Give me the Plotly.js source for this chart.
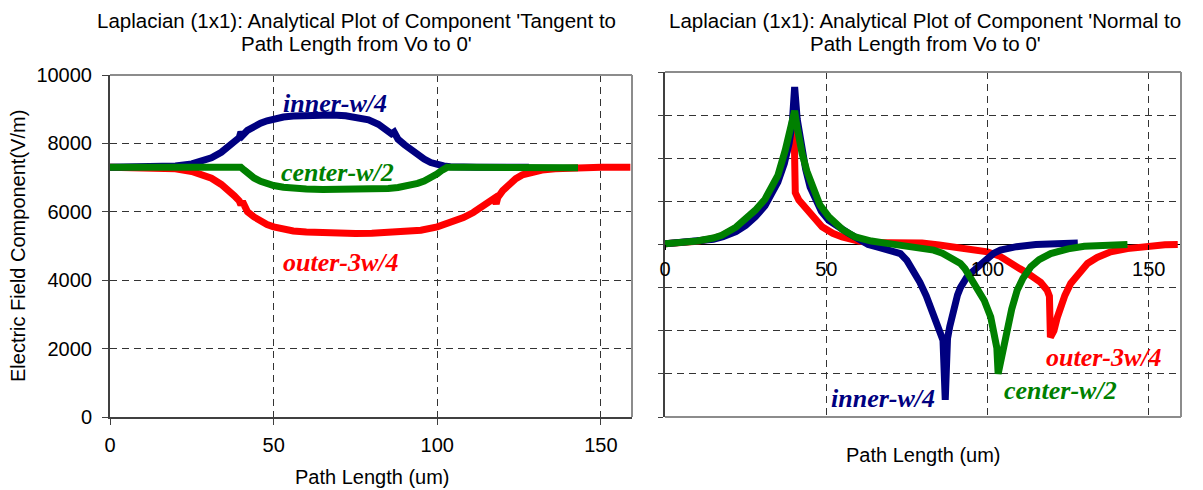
<!DOCTYPE html>
<html>
<head>
<meta charset="utf-8">
<script src="https://cdn.plot.ly/plotly-3.0.1.min.js"></script>
<style>html,body{margin:0;padding:0;background:#fff;}#chart{width:1203px;height:490px;}</style>
</head>
<body>
<div id="chart"></div>
<script>
// ---- Left chart: Tangent component (V/m) vs path length (um) ----
const tanInnerX = [0, 5, 10, 15, 20, 25, 28, 31, 34, 36, 38, 39.5, 40, 40.5, 42, 44, 46, 48, 50, 53, 56, 60, 64, 68, 72, 76, 79, 82, 84, 86, 86.8, 87.3, 88, 90, 92, 94, 96, 98, 100, 102, 104, 107, 112, 120, 128];
const tanInnerY = [7300, 7300, 7305, 7315, 7340, 7400, 7470, 7580, 7740, 7880, 8040, 8170, 8330, 8230, 8380, 8500, 8590, 8660, 8710, 8770, 8800, 8825, 8835, 8830, 8810, 8760, 8690, 8560, 8440, 8280, 8330, 8180, 8120, 7960, 7800, 7660, 7540, 7440, 7380, 7340, 7320, 7305, 7300, 7300, 7300];

const tanCenterX = [0, 10, 20, 30, 38, 40, 41, 42, 44, 46, 48, 50, 53, 56, 60, 65, 70, 75, 80, 85, 88, 91, 94, 96, 98, 100, 101.5, 103, 110, 120, 130, 143];
const tanCenterY = [7300, 7300, 7300, 7300, 7300, 7300, 7220, 7120, 6990, 6890, 6820, 6770, 6720, 6690, 6670, 6655, 6650, 6650, 6660, 6680, 6710, 6760, 6830, 6900, 6990, 7110, 7220, 7300, 7300, 7300, 7290, 7290];

const tanOuterX = [0, 5, 10, 15, 20, 25, 28, 31, 34, 36, 38, 39.5, 40, 40.5, 42, 44, 46, 48, 50, 53, 56, 60, 65, 70, 75, 80, 85, 90, 95, 100, 104, 108, 111, 114, 116, 117.5, 118, 118.5, 120, 122, 124, 126, 129, 132, 136, 140, 145, 150, 159];
const tanOuterY = [7300, 7300, 7295, 7285, 7260, 7180, 7100, 6980, 6800, 6650, 6470, 6320, 6200, 6300, 6000, 5850, 5730, 5630, 5560, 5490, 5440, 5410, 5385, 5370, 5365, 5370, 5385, 5410, 5460, 5560, 5680, 5830, 5980, 6170, 6300, 6400, 6230, 6420, 6620, 6820, 6970, 7080, 7170, 7220, 7260, 7280, 7295, 7300, 7300];

// ---- Right chart: Normal component (unlabelled scale) vs path length (um) ----
const norInnerX = [0, 5, 10, 15, 18, 22, 25, 28, 31, 33, 35, 37, 38.5, 39.5, 40.2, 41, 41.8, 42.6, 43.6, 45, 46.6, 48.5, 50.8, 54, 57, 60, 63, 66, 70, 73, 75, 77, 79, 81, 83, 85, 86.2, 86.9, 87.6, 88.3, 89.1, 89.9, 90.7, 91.6, 92.5, 93.5, 94.7, 96.8, 98.5, 100, 102, 104, 106.5, 109, 115, 120, 128];
const norInnerY = [20, 40, 70, 120, 180, 300, 440, 640, 900, 1140, 1450, 1880, 2350, 2850, 3650, 2900, 2500, 2150, 1750, 1330, 1030, 770, 560, 380, 255, 130, 0, -60, -140, -210, -370, -590, -870, -1190, -1560, -1960, -2220, -3600, -2180, -1900, -1620, -1380, -1170, -1000, -870, -770, -670, -520, -400, -300, -200, -130, -80, -50, 0, 20, 35];

const norCenterX = [0, 5, 10, 15, 17.6, 22, 25, 28, 31, 33, 35, 37.3, 38.7, 39.6, 40.2, 40.9, 41.6, 42.5, 44, 45.6, 48, 50.8, 55, 59, 64, 69.4, 75, 79.7, 83.3, 86, 88, 90, 91.6, 93, 94.5, 96.8, 99, 101, 102.2, 102.9, 103.3, 104, 105, 106, 107.5, 109.2, 111, 113.4, 116, 119.6, 125, 130, 137, 143.4];
const norCenterY = [20, 40, 80, 150, 215, 400, 580, 795, 1050, 1290, 1600, 2190, 2600, 2900, 3100, 2750, 2450, 2110, 1700, 1340, 920, 640, 350, 175, 80, 20, -40, -95, -130, -200, -290, -370, -440, -560, -730, -985, -1300, -1680, -2050, -2400, -3000, -2750, -2350, -1990, -1500, -1060, -780, -520, -350, -210, -100, -40, -10, 0];

const norOuterX = [0, 5, 10, 15, 17.6, 22, 25, 28, 31, 33, 35, 37, 38.8, 39.8, 40.1, 40.4, 41.5, 43.5, 46, 48.7, 52, 54.9, 60, 64.2, 70, 75, 79.7, 85, 90, 95, 100, 104, 107, 110, 112.3, 114.4, 116.5, 118.5, 119.2, 119.5, 120.6, 121.6, 122.7, 124, 125.8, 128, 131, 134, 138.2, 143.4, 150.6, 155, 159];
const norOuterY = [20, 40, 75, 140, 200, 380, 550, 760, 1000, 1230, 1520, 1950, 2350, 2650, 2400, 1200, 1030, 870, 620, 410, 260, 175, 80, 40, 40, 40, 35, -10, -55, -110, -170, -280, -440, -560, -660, -760, -880, -1060, -1200, -2150, -2000, -1700, -1450, -1180, -905, -700, -440, -300, -170, -95, -15, -5, 0];

const seriesNames = ['inner-w/4', 'center-w/2', 'outer-3w/4'];
const seriesColors = ['#000080', '#008000', '#ff0000'];
const xTicks = [0, 50, 100, 150];
const yTicksLeft = [0, 2000, 4000, 6000, 8000, 10000];
const yTicksRight = [-4000, -3000, -2000, -1000, 0, 1000, 2000, 3000, 4000];

const titleLeft = ["Laplacian (1x1): Analytical Plot of Component 'Tangent to", "Path Length from Vo to 0'"];
const titleRight = ["Laplacian (1x1): Analytical Plot of Component 'Normal to", "Path Length from Vo to 0'"];
const xTitle = 'Path Length (um)';
const yTitle = 'Electric Field Component(V/m)';

const LW = 7;
function tr(x, y, i, xa, ya) {
  return {x: x, y: y, type: 'scatter', mode: 'lines', name: seriesNames[i],
    xaxis: xa, yaxis: ya, line: {color: seriesColors[i], width: LW, shape: 'linear'},
    showlegend: false, hoverinfo: 'skip'};
}
// draw order: outer (red) under, inner (blue), center (green) on top
const data = [
  tr(tanOuterX, tanOuterY, 2, 'x', 'y'),
  tr(tanInnerX, tanInnerY, 0, 'x', 'y'),
  tr(tanCenterX, tanCenterY, 1, 'x', 'y'),
  tr(norOuterX, norOuterY, 2, 'x2', 'y2'),
  tr(norInnerX, norInnerY, 0, 'x2', 'y2'),
  tr(norCenterX, norCenterY, 1, 'x2', 'y2')
];

const W = 1203, H = 490;
const px = v => v / W, py = v => 1 - v / H;
const FONT = 'Liberation Sans, Arial, sans-serif';
const gridStyle = {gridcolor: '#333', gridwidth: 1, griddash: '7px,5px'};

const layout = {
  width: W, height: H,
  margin: {l: 0, r: 0, t: 0, b: 0},
  paper_bgcolor: '#fff', plot_bgcolor: '#fff',
  font: {family: FONT, size: 20, color: '#000'},
  showlegend: false,
  xaxis: Object.assign({domain: [px(110), px(632)], range: [0, 159.5], tickvals: xTicks,
    showgrid: true, zeroline: false, showline: true, linecolor: '#404040', linewidth: 2,
    ticks: 'outside', ticklen: 6, tickcolor: '#404040', ticklabelstandoff: 3,
    tickfont: {size: 20}, anchor: 'y'}, gridStyle),
  yaxis: Object.assign({domain: [py(417), py(75)], range: [0, 10000], tickvals: yTicksLeft,
    tickformat: 'd',
    showgrid: true, zeroline: false, showline: true, linecolor: '#404040', linewidth: 2,
    ticks: 'outside', ticklen: 6, tickcolor: '#404040', ticklabelstandoff: 6,
    tickfont: {size: 20}, anchor: 'x'}, gridStyle),
  xaxis2: Object.assign({domain: [px(665), px(1181)], range: [0, 160], tickvals: xTicks,
    showgrid: true, zeroline: false, showline: false,
    ticks: 'outside', ticklen: 5, tickcolor: '#000', ticklabelstandoff: 2,
    tickfont: {size: 20}, anchor: 'free', position: 1 - 244.3 / H}, gridStyle),
  yaxis2: Object.assign({domain: [py(417), py(72)], range: [-4000, 4000], tickvals: yTicksRight,
    showgrid: true, zeroline: true, zerolinecolor: '#000', zerolinewidth: 1,
    showline: true, linecolor: '#404040', linewidth: 2, showticklabels: false,
    ticks: 'outside', ticklen: 5, tickcolor: '#404040', anchor: 'x2'}, gridStyle),
  shapes: [],
  annotations: []
};

// plot-area frames (grey top/right, and grey bottom on the right chart)
const S = layout.shapes;
const grey = {color: '#8c8c8c', width: 2};
S.push({type: 'line', xref: 'x domain', yref: 'y domain', x0: 0, x1: 1, y0: 1, y1: 1, line: grey, layer: 'above'});
S.push({type: 'line', xref: 'x domain', yref: 'y domain', x0: 1, x1: 1, y0: 0, y1: 1, line: grey, layer: 'above'});
S.push({type: 'line', xref: 'x2 domain', yref: 'y2 domain', x0: 0, x1: 1, y0: 1, y1: 1, line: grey, layer: 'above'});
S.push({type: 'line', xref: 'x2 domain', yref: 'y2 domain', x0: 1, x1: 1, y0: 0, y1: 1, line: grey, layer: 'above'});
S.push({type: 'line', xref: 'x2 domain', yref: 'y2 domain', x0: 0, x1: 1, y0: 0, y1: 0, line: grey, layer: 'above'});

const A = layout.annotations;
// subplot titles
A.push({text: titleLeft[0], xref: 'paper', yref: 'paper', x: px(356), y: py(20), showarrow: false, xanchor: 'center', yanchor: 'middle', font: {size: 20.5}});
A.push({text: titleLeft[1], xref: 'paper', yref: 'paper', x: px(356), y: py(44), showarrow: false, xanchor: 'center', yanchor: 'middle', font: {size: 20.5}});
A.push({text: titleRight[0], xref: 'paper', yref: 'paper', x: px(925), y: py(20), showarrow: false, xanchor: 'center', yanchor: 'middle', font: {size: 20.5}});
A.push({text: titleRight[1], xref: 'paper', yref: 'paper', x: px(925), y: py(44), showarrow: false, xanchor: 'center', yanchor: 'middle', font: {size: 20.5}});
// axis titles
A.push({text: xTitle, xref: 'paper', yref: 'paper', x: px(372), y: py(477), showarrow: false, xanchor: 'center', yanchor: 'middle', font: {size: 20}});
A.push({text: xTitle, xref: 'paper', yref: 'paper', x: px(923), y: py(455), showarrow: false, xanchor: 'center', yanchor: 'middle', font: {size: 20}});
A.push({text: yTitle, xref: 'paper', yref: 'paper', x: px(18), y: py(246), showarrow: false, xanchor: 'center', yanchor: 'middle', textangle: -90, font: {size: 20}});

// series labels
const LBL = {family: 'Liberation Serif, Times New Roman, serif', size: 26};
const lblLeft = [[68.8, 9180], [69.4, 7160], [70.6, 4530]];
const lblRight = [[67.7, -3566], [122.7, -3380], [136, -2615]];
for (let i = 0; i < 3; i++) {
  A.push({text: '<b><i>' + seriesNames[i] + '</i></b>', xref: 'x', yref: 'y', x: lblLeft[i][0], y: lblLeft[i][1],
    showarrow: false, xanchor: 'center', yanchor: 'middle', font: Object.assign({color: seriesColors[i]}, LBL)});
  A.push({text: '<b><i>' + seriesNames[i] + '</i></b>', xref: 'x2', yref: 'y2', x: lblRight[i][0], y: lblRight[i][1],
    showarrow: false, xanchor: 'center', yanchor: 'middle', font: Object.assign({color: seriesColors[i]}, LBL)});
}

Plotly.newPlot('chart', data, layout, {staticPlot: true, displayModeBar: false});
</script>
</body>
</html>
